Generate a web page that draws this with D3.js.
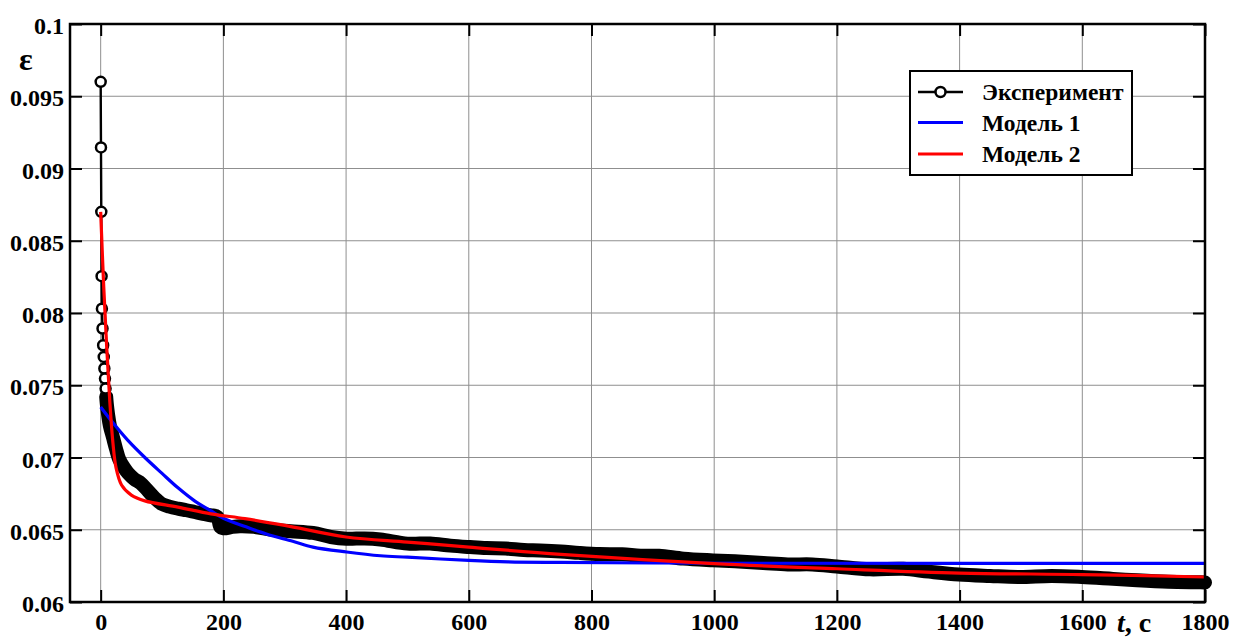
<!DOCTYPE html>
<html><head><meta charset="utf-8">
<script src="https://cdn.jsdelivr.net/npm/d3@7"></script>
<style>
html,body{margin:0;padding:0;background:#fff;}
svg{display:block;}
text{font-family:"Liberation Serif","Times New Roman",serif;font-weight:bold;fill:#000;}
</style></head>
<body>
<svg id="chart" width="1234" height="637"></svg>
<script>
// ---- data ----
const xTicks = [0,200,400,600,800,1000,1200,1400,1600,1800];
const yTicks = [0.06,0.065,0.07,0.075,0.08,0.085,0.09,0.095,0.1];
const yTickLabels = ["0.06","0.065","0.07","0.075","0.08","0.085","0.09","0.095","0.1"];
const seriesNames = ["Эксперимент","Модель 1","Модель 2"];

const expT = [0,0.5,1,1.5,2,3,4,5,6,7,8,9,10,12,15,20,25,30,38,45,55,66,77,88,99,112,126,140,153,167,180,190,195,200,215,227,250,280,310,346,375,401,430,456,500,537,570,602,629,660,690,716,750,780,813,850,880,910,950,998,1040,1080,1120,1160,1200,1254,1308,1350,1399,1450,1498,1550,1599,1650,1689,1740,1792,1800];
const expE = [0.0960,0.09146,0.0870,0.08255,0.0803,0.07893,0.07777,0.07696,0.07616,0.07546,0.07477,0.0742,0.0737,0.0730,0.0722,0.0714,0.0706,0.0699,0.0693,0.0689,0.0685,0.0682,0.0677,0.0672,0.0668,0.0666,0.06646,0.06635,0.06623,0.0661,0.0660,0.0659,0.0652,0.0651,0.0652,0.06524,0.0652,0.0650,0.0649,0.06478,0.0645,0.06438,0.0644,0.06433,0.06404,0.06405,0.0639,0.0638,0.06373,0.0637,0.0636,0.06357,0.0635,0.0634,0.06332,0.0633,0.0632,0.0632,0.0630,0.06288,0.0628,0.0627,0.0626,0.0626,0.06246,0.06226,0.0623,0.0621,0.0619,0.0618,0.06173,0.0618,0.06173,0.0616,0.0615,0.0614,0.06136,0.06135];

const m1T = [0,20,44,72,100,126,153,180,200,237,270,313,346,401,456,500,600,664,750,900,1100,1400,1800];
const m1E = [0.0735,0.0724,0.0712,0.0700,0.0689,0.0679,0.0670,0.0663,0.0658,0.0652,0.0647,0.0642,0.0638,0.06346,0.0632,0.0631,0.06288,0.06278,0.06274,0.0627,0.06268,0.06267,0.06267];

const m2T = [0,5,10,15,20,25,34,50,72,126,180,235,300,400,500,600,750,1000,1200,1400,1600,1800];
const m2E = [0.0870,0.0818,0.0775,0.0738,0.0710,0.0693,0.0681,0.0674,0.0670,0.06657,0.0661,0.06577,0.0653,0.0645,0.06415,0.0638,0.0633,0.06265,0.0623,0.0620,0.0619,0.06173];

// ---- layout ----
const L = 70, R = 1205, T = 24, B = 602;
const svg = d3.select("#chart");
const x = d3.scaleLinear().domain([-50,1800]).range([L,R]);
const y = d3.scaleLinear().domain([0.06,0.1]).range([B,T]);

// grid
const grid = svg.append("g").attr("stroke","#8f8f8f").attr("stroke-width",1);
xTicks.forEach(v=>grid.append("line").attr("x1",x(v)).attr("x2",x(v)).attr("y1",T).attr("y2",B));
yTicks.forEach(v=>grid.append("line").attr("x1",L).attr("x2",R).attr("y1",y(v)).attr("y2",y(v)));

// axes (inward ticks, all four sides)
const fmtY = d => yTickLabels[yTicks.indexOf(d)];
const axB = svg.append("g").attr("transform",`translate(0,${B})`)
  .call(d3.axisBottom(x).tickValues(xTicks).tickSizeInner(-12).tickSizeOuter(0).tickPadding(28).tickFormat(d3.format("d")));
const axT = svg.append("g").attr("transform",`translate(0,${T})`)
  .call(d3.axisTop(x).tickValues(xTicks).tickSizeInner(-12).tickSizeOuter(0).tickFormat(""));
const axL = svg.append("g").attr("transform",`translate(${L},0)`)
  .call(d3.axisLeft(y).tickValues(yTicks).tickSizeInner(-12).tickSizeOuter(0).tickPadding(6).tickFormat(fmtY));
const axR = svg.append("g").attr("transform",`translate(${R},0)`)
  .call(d3.axisRight(y).tickValues(yTicks).tickSizeInner(-12).tickSizeOuter(0).tickFormat(""));
[axB,axT,axL,axR].forEach(a=>{
  a.select(".domain").remove();
  a.selectAll(".tick line").attr("stroke","#000").attr("stroke-width",2);
  a.selectAll("text").style("font-size","24px").style("font-family","Liberation Serif").style("font-weight","bold").attr("fill","#000");
});
axB.selectAll(".tick text").attr("dy","0");
axL.selectAll(".tick text").attr("dy","0.4em");

// data
const exp = expT.map((t,i)=>({t,e:expE[i]}));
const m1 = m1T.map((t,i)=>({t,e:m1E[i]}));
const m2 = m2T.map((t,i)=>({t,e:m2E[i]}));
const smooth = d3.line().x(d=>x(d.t)).y(d=>y(d.e)).curve(d3.curveCatmullRom.alpha(0.5));
const lineLin = d3.line().x(d=>x(d.t)).y(d=>y(d.e));

// experiment: thin connecting line, dense region shown as thick band of overlapping markers
svg.append("path").datum(exp).attr("d",lineLin).attr("fill","none").attr("stroke","#000").attr("stroke-width",2.4);
svg.append("path").datum(exp.filter(d=>d.t>=9)).attr("d",smooth).attr("fill","none")
  .attr("stroke","#000").attr("stroke-width",14).attr("stroke-linecap","round").attr("stroke-linejoin","round");
svg.append("g").selectAll("circle").data(exp.filter(d=>d.t<9)).join("circle")
  .attr("cx",d=>x(d.t)).attr("cy",d=>y(d.e)).attr("r",5)
  .attr("fill","#fff").attr("stroke","#000").attr("stroke-width",2.5);

svg.append("path").datum(m1).attr("d",smooth).attr("fill","none").attr("stroke","#0000ff").attr("stroke-width",3.2);
svg.append("path").datum(m2).attr("d",smooth).attr("fill","none").attr("stroke","#ff0000").attr("stroke-width",3.2).attr("stroke-linejoin","round");

// frame
svg.append("rect").attr("x",L).attr("y",T).attr("width",R-L).attr("height",B-T)
  .attr("fill","none").attr("stroke","#000").attr("stroke-width",2.5);

// axis titles
svg.append("text").attr("x",19).attr("y",70).style("font-size","32px").text("ε");
const tl = svg.append("text").attr("x",1117).attr("y",632).style("font-size","28px");
tl.append("tspan").style("font-style","italic").text("t");
tl.append("tspan").text(", с");

// legend
const lg = svg.append("g");
lg.append("rect").attr("x",910).attr("y",71).attr("width",222).attr("height",104)
  .attr("fill","#fff").attr("stroke","#000").attr("stroke-width",2);
const rows = [92,122.5,154];
const colors = ["#000","#0000ff","#ff0000"];
seriesNames.forEach((n,i)=>{
  lg.append("line").attr("x1",918).attr("x2",963).attr("y1",rows[i]).attr("y2",rows[i])
    .attr("stroke",colors[i]).attr("stroke-width",i===0?2.4:3.2);
  if(i===0) lg.append("circle").attr("cx",940.5).attr("cy",rows[i]).attr("r",5)
    .attr("fill","#fff").attr("stroke","#000").attr("stroke-width",2.5);
  lg.append("text").attr("x",982).attr("y",rows[i]).attr("dy","0.35em").style("font-size","23.5px").text(n);
});
</script>
</body></html>
